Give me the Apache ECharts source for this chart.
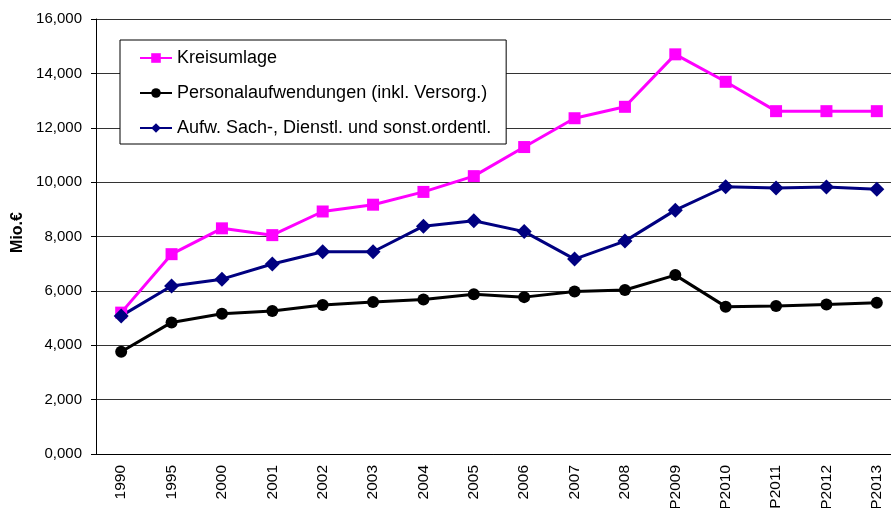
<!DOCTYPE html>
<html>
<head>
<meta charset="utf-8">
<script src="https://cdn.jsdelivr.net/npm/echarts@6/dist/echarts.min.js"></script>
<style>
html,body{margin:0;padding:0;background:#fff;}
#main{width:891px;height:508px;}
</style>
</head>
<body>
<div id="main"></div>
<script>
// Kategorien (x-Achse)
var categories = ['1990','1995','2000','2001','2002','2003','2004','2005','2006','2007','2008','P2009','P2010','P2011','P2012','P2013'];
// Werte in Mio. €
var kreisumlage = [5200, 7350, 8300, 8050, 8920, 9170, 9640, 10220, 11290, 12350, 12770, 14700, 13690, 12610, 12610, 12610];
var personal = [3760, 4840, 5160, 5260, 5480, 5590, 5680, 5880, 5770, 5980, 6030, 6580, 5420, 5440, 5500, 5560];
var sachaufw = [5080, 6180, 6430, 6990, 7440, 7440, 8380, 8580, 8180, 7170, 7830, 8970, 9830, 9780, 9820, 9740];
var yTicks = [0, 2000, 4000, 6000, 8000, 10000, 12000, 14000, 16000];

function fmt(v) {
    if (v === 0) return '0,000';
    return (v / 1000) + ',000';
}

var myChart = echarts.init(document.getElementById('main'));
var font = 'Liberation Sans, Arial, sans-serif';

var option = {
    animation: false,
    textStyle: {fontFamily: font},
    grid: {
        left: 96,
        right: -11,
        top: 19,
        bottom: 54,
        outerBoundsMode: 'none'
    },
    legend: {
        orient: 'vertical',
        left: 120,
        top: 40,
        padding: [9, 15, 7, 19],
        itemGap: 17,
        itemWidth: 32,
        itemHeight: 12,
        backgroundColor: '#fff',
        borderColor: '#000',
        borderWidth: 1,
        textStyle: {fontSize: 18, color: '#000', fontFamily: font},
        data: ['Kreisumlage', 'Personalaufwendungen (inkl. Versorg.)', 'Aufw. Sach-, Dienstl. und sonst.ordentl.']
    },
    xAxis: {
        type: 'category',
        data: categories,
        boundaryGap: true,
        axisLine: {lineStyle: {color: '#000', width: 1}},
        axisTick: {length: 5, lineStyle: {color: '#000'}},
        axisLabel: {
            rotate: 90,
            fontSize: 15.5,
            color: '#000',
            margin: 11,
            fontFamily: font
        }
    },
    yAxis: {
        type: 'value',
        min: 0,
        max: 16000,
        interval: 2000,
        name: 'Mio.€',
        nameLocation: 'middle',
        nameGap: 68,
        nameRotate: 90,
        nameTextStyle: {fontSize: 16, fontWeight: 'bold', color: '#000', fontFamily: font, padding: [0, 0, 0, 8]},
        axisLine: {show: true, lineStyle: {color: '#000'}},
        axisTick: {show: true, length: 5, lineStyle: {color: '#000'}},
        axisLabel: {
            fontSize: 15,
            color: '#000',
            margin: 14,
            fontFamily: font,
            formatter: fmt
        },
        splitLine: {lineStyle: {color: '#333', width: 1}}
    },
    series: [
        {
            name: 'Kreisumlage',
            type: 'line',
            data: kreisumlage,
            symbol: 'rect',
            symbolSize: 12,
            color: '#ff00ff',
            lineStyle: {width: 3, color: '#ff00ff'},
            itemStyle: {color: '#ff00ff'}
        },
        {
            name: 'Personalaufwendungen (inkl. Versorg.)',
            type: 'line',
            data: personal,
            symbol: 'circle',
            symbolSize: 12,
            color: '#000',
            lineStyle: {width: 3, color: '#000'},
            itemStyle: {color: '#000'}
        },
        {
            name: 'Aufw. Sach-, Dienstl. und sonst.ordentl.',
            type: 'line',
            data: sachaufw,
            symbol: 'diamond',
            symbolSize: 15,
            color: '#000080',
            lineStyle: {width: 3, color: '#000080'},
            itemStyle: {color: '#000080'}
        }
    ]
};
myChart.setOption(option);
</script>
</body>
</html>
